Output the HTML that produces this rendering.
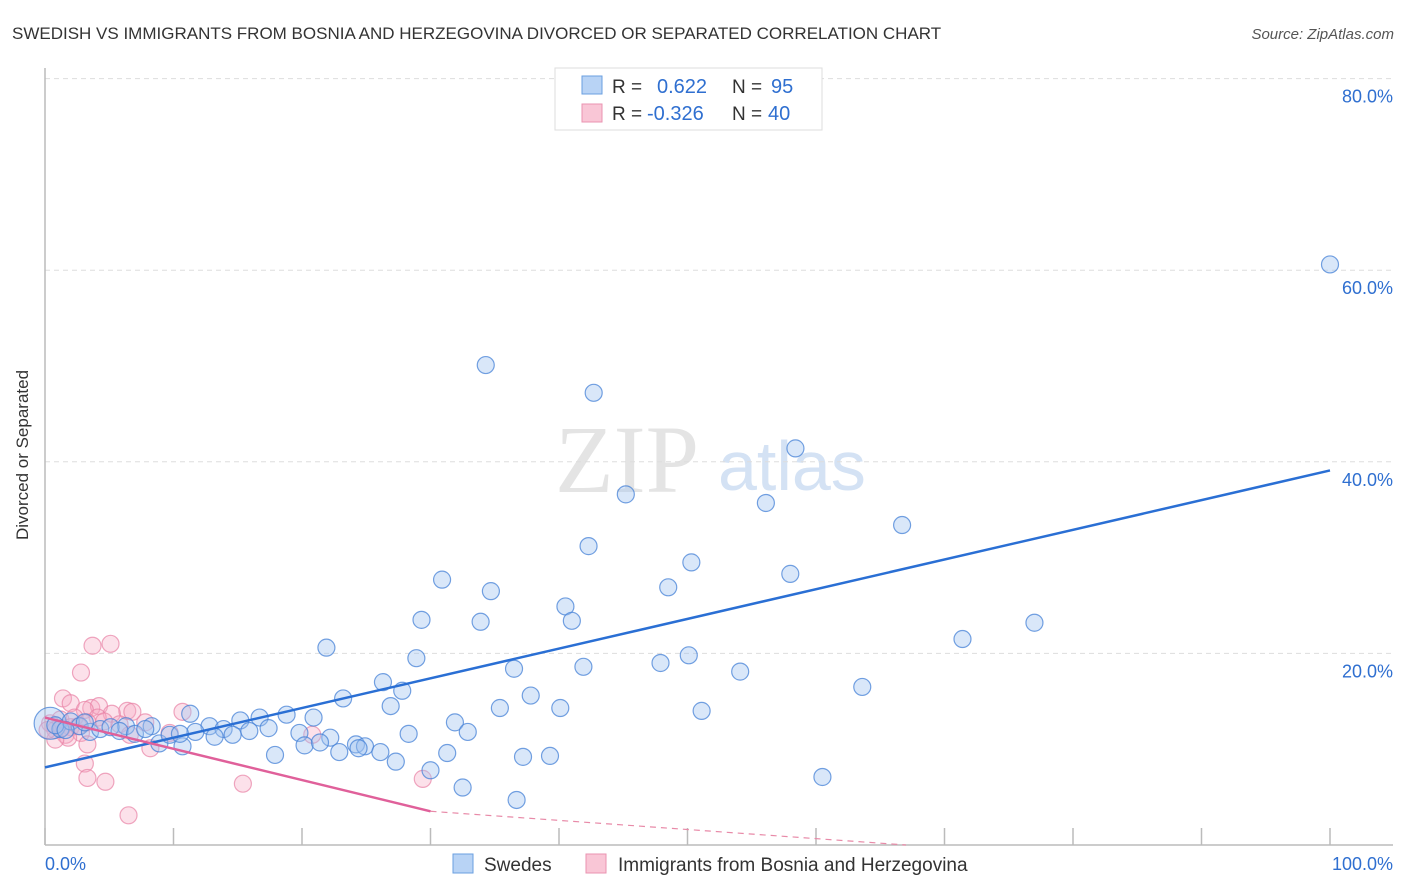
<!DOCTYPE html>
<html><head><meta charset="utf-8"><style>
body{margin:0;background:#fff;font-family:"Liberation Sans",sans-serif;}
svg{display:block}
</style></head><body>
<svg width="1406" height="892">
<text x="12" y="39" font-size="17" fill="#333">SWEDISH VS IMMIGRANTS FROM BOSNIA AND HERZEGOVINA DIVORCED OR SEPARATED CORRELATION CHART</text>
<text x="1394" y="39" font-size="15" fill="#555" font-style="italic" text-anchor="end">Source: ZipAtlas.com</text>
<text x="28" y="455" font-size="17" fill="#333" text-anchor="middle" transform="rotate(-90 28 455)">Divorced or Separated</text>
<text x="555" y="492" font-size="96" fill="#e4e4e4" font-family="Liberation Serif,serif">ZIP</text>
<text x="718" y="490" font-size="70" fill="#d4e2f4">atlas</text>
<g id="grid"></g><g id="axes"></g><g id="pts"></g><g id="lines"></g>
<g>
<rect x="555" y="68" width="267" height="62" fill="#fff" stroke="#ddd"/>
<rect x="582" y="76" width="20" height="18" fill="#b8d3f5" stroke="#6a9fe0"/>
<rect x="582" y="104" width="20" height="18" fill="#f9c6d6" stroke="#ea93b0"/>
<text x="612" y="93" font-size="19" fill="#333">R = </text><text x="657" y="93" font-size="20" fill="#2f6fd0">0.622</text>
<text x="732" y="93" font-size="19" fill="#333">N = </text><text x="771" y="93" font-size="20" fill="#2f6fd0">95</text>
<text x="612" y="120" font-size="19" fill="#333">R = </text><text x="647" y="120" font-size="20" fill="#2f6fd0">-0.326</text>
<text x="732" y="120" font-size="19" fill="#333">N = </text><text x="768" y="120" font-size="20" fill="#2f6fd0">40</text>
</g>
<g>
<rect x="453" y="854" width="20" height="19" fill="#b8d3f5" stroke="#6a9fe0"/>
<text x="484" y="871" font-size="19" fill="#333">Swedes</text>
<rect x="586" y="854" width="20" height="19" fill="#f9c6d6" stroke="#ea93b0"/>
<text x="618" y="871" font-size="19" fill="#333">Immigrants from Bosnia and Herzegovina</text>
</g>
<text x="45" y="870" font-size="18" fill="#2f6fd0">0.0%</text>
<text x="1393" y="870" font-size="18" fill="#2f6fd0" text-anchor="end">100.0%</text>
</svg>
<script>
const yTicks=[20,40,60,80];
const yTickLabels=["20.0%","40.0%","60.0%","80.0%"];
const swedesX=[100,34.3,42.7,58.4,45.2,56.1,66.7,42.3,50.3,58.0,30.9,48.5,34.7,40.5,29.3,33.9,41.0,77.0,71.4,21.9,28.9,50.1,47.9,36.5,41.9,54.1,26.3,27.8,63.6,23.2,37.8,26.9,35.4,40.1,51.1,11.3,18.8,20.9,16.7,15.2,31.9,8.3,12.8,6.3,32.9,28.3,13.9,17.4,19.8,15.9,22.2,24.2,20.2,21.4,24.9,22.9,24.4,26.1,31.3,17.9,27.3,37.2,39.3,30.0,32.5,36.7,60.5,10.7,8.9,0.4,1.2,2.0,2.7,3.5,4.3,5.1,5.8,7.0,7.8,9.7,11.7,13.2,10.5,14.6,0.8,1.6,3.1];
const swedesY=[60.6,50.1,47.2,41.4,36.6,35.7,33.4,31.2,29.5,28.3,27.7,26.9,26.5,24.9,23.5,23.3,23.4,23.2,21.5,20.6,19.5,19.8,19.0,18.4,18.6,18.1,17.0,16.1,16.5,15.3,15.6,14.5,14.3,14.3,14.0,13.7,13.6,13.3,13.3,13.0,12.8,12.4,12.4,12.4,11.8,11.6,12.1,12.2,11.7,11.9,11.2,10.5,10.4,10.7,10.3,9.7,10.1,9.7,9.6,9.4,8.7,9.2,9.3,7.8,6.0,4.7,7.1,10.3,10.6,12.7,12.1,12.9,12.4,11.8,12.1,12.3,11.9,11.6,12.1,11.5,11.8,11.3,11.6,11.5,12.5,12.0,12.8];
const bosniaX=[3.7,5.1,2.8,1.4,2.0,3.6,4.2,3.1,6.4,6.8,10.7,5.2,4.1,1.2,2.3,0.4,0.8,1.6,2.0,2.8,3.3,4.6,5.8,7.8,6.6,8.2,1.8,3.3,3.1,3.3,4.7,15.4,6.5,20.8,29.4,9.7,0.8,0.2,1.3,2.6];
const bosniaY=[20.8,21.0,18.0,15.3,14.8,14.3,14.5,14.1,14.0,13.9,13.9,13.7,13.3,13.1,13.3,12.7,12.0,11.5,12.3,11.7,12.8,12.9,12.6,12.8,11.5,10.1,11.2,10.5,8.5,7.0,6.6,6.4,3.1,11.5,6.9,11.7,11.0,12.0,12.2,12.4];
const swedesLine=[8.1,39.1];
const bosniaLine=[13.3,-0.326*24.5+13.3];
const NS="http://www.w3.org/2000/svg";
const X=v=>45+v*12.85, Y=v=>845-v*9.58;
function mk(t,a,p){const e=document.createElementNS(NS,t);for(const k in a)e.setAttribute(k,a[k]);p.appendChild(e);return e;}
const grid=document.getElementById('grid');
yTicks.forEach((t,i)=>{
 const l=mk('line',{x1:45,x2:1393,y1:Y(t),y2:Y(t),stroke:'#ddd','stroke-dasharray':'5,4'},grid);
 
 
 const tx=mk('text',{x:1393,y:Y(t)+24,'font-size':18,fill:'#2f6fd0','text-anchor':'end'},grid);
 tx.textContent=yTickLabels[i];
 
 
});
const axes=document.getElementById('axes');
const ya=mk('line',{x1:45,x2:45,y1:68,y2:845,stroke:'#bbb','stroke-width':1.5},axes);


const xa=mk('line',{x1:45,x2:1393,y1:845,y2:845,stroke:'#bbb','stroke-width':1.5},axes);


for(let i=0;i<=10;i++){const t=mk('line',{x1:X(i*10),x2:X(i*10),y1:828,y2:845,stroke:'#bbb','stroke-width':1.5},axes);
 
 }
const pts=document.getElementById('pts');
bosniaX.forEach((x,i)=>{const c=mk('circle',{cx:X(x),cy:Y(bosniaY[i]),r:8.5,fill:'rgba(246,170,195,0.35)',stroke:'rgba(232,130,165,0.7)','stroke-width':1.2},pts);
 
 });
swedesX.forEach((x,i)=>{const c=mk('circle',{cx:X(x),cy:Y(swedesY[i]),r:i==69?16:8.5,fill:'rgba(160,195,240,0.4)',stroke:'rgba(70,130,215,0.75)','stroke-width':1.2},pts);
 
 });
const lines=document.getElementById('lines');
const sl=mk('line',{x1:X(0),y1:Y(swedesLine[0]),x2:X(100),y2:Y(swedesLine[1]),stroke:'#2a6fd4','stroke-width':2.5},lines);


const slope=(bosniaLine[1]-bosniaLine[0])/24.5;
const bl=mk('line',{x1:X(0),y1:Y(bosniaLine[0]),x2:X(30),y2:Y(bosniaLine[0]+slope*30),stroke:'#e0609a','stroke-width':2.5},lines);


const bd=mk('line',{x1:X(30),y1:Y(bosniaLine[0]+slope*30),x2:X(67),y2:Y(Math.max(0,bosniaLine[0]+slope*67)),stroke:'#e88aa8','stroke-width':1.2,'stroke-dasharray':'6,5'},lines);


</script>
</body></html>
